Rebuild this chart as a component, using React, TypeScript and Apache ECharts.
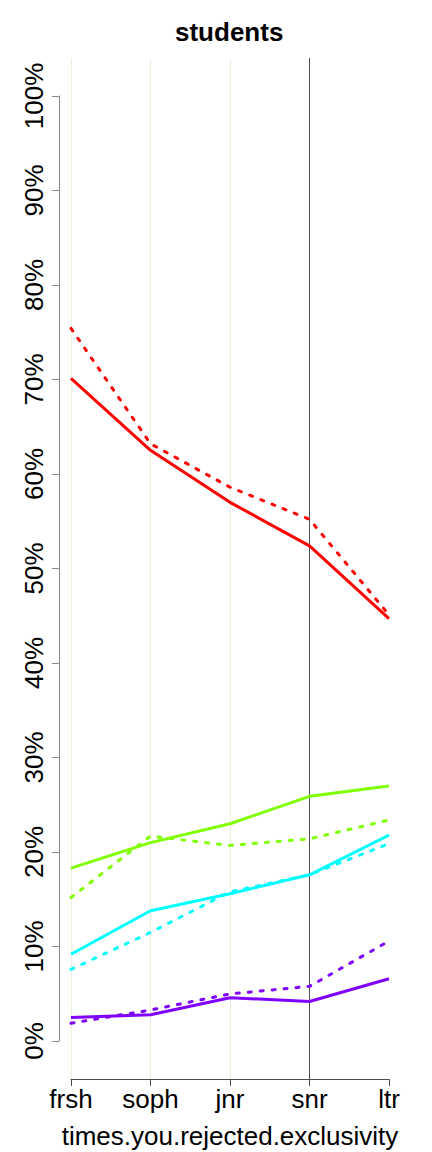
import React, { useEffect, useRef } from "react";
import * as echarts from "echarts";

const categories = ["frsh", "soph", "jnr", "snr", "ltr"];
const redSolid = [70.1, 62.5, 57.0, 52.4, 44.7];
const redDashed = [75.4, 63.2, 58.6, 55.2, 45.1];
const greenSolid = [18.3, 21.0, 23.0, 25.9, 27.0];
const greenDashed = [15.2, 21.7, 20.7, 21.4, 23.4];
const cyanSolid = [9.2, 13.8, 15.6, 17.6, 21.8];
const cyanDashed = [7.6, 11.5, 15.8, 17.6, 20.9];
const purpleSolid = [2.5, 2.8, 4.6, 4.2, 6.6];
const purpleDashed = [1.9, 3.3, 5.0, 5.8, 10.6];
const yTicks = [0, 10, 20, 30, 40, 50, 60, 70, 80, 90, 100];

const FONT = "'Liberation Sans', Arial, sans-serif";

function lineSeries(data: number[], color: string, dashed: boolean) {
  return {
    type: "line",
    xAxisIndex: 0,
    yAxisIndex: 0,
    data,
    symbol: "none",
    showSymbol: false,
    silent: true,
    lineStyle: dashed
      ? { color, width: 3, type: [3, 9], cap: "round" }
      : { color, width: 3, type: "solid" },
  };
}

export default function App() {
  const ref = useRef<HTMLDivElement>(null);
  useEffect(() => {
    if (!ref.current) return;
    const chart = echarts.init(ref.current, null, { renderer: "svg" });
    chart.setOption({
      animation: false,
      backgroundColor: "#ffffff",
      title: {
        text: "students",
        left: 170,
        top: 14,
        textStyle: { fontFamily: FONT, fontSize: 26, fontWeight: "bold", color: "#000" },
      },
      grid: [
        { left: 71, right: 43, top: 58, bottom: 73, outerBoundsMode: "none", containLabel: false },
        { left: 71, right: 43, top: 96, bottom: 111, outerBoundsMode: "none", containLabel: false },
      ],
      xAxis: [
        {
          gridIndex: 0,
          type: "category",
          data: categories,
          boundaryGap: false,
          name: "times.you.rejected.exclusivity",
          nameLocation: "middle",
          nameGap: 44,
          nameTextStyle: { fontFamily: FONT, fontSize: 26, lineHeight: 26, color: "#000" },
          axisLine: { show: true, onZero: false, lineStyle: { color: "#4d4d4d", width: 1 } },
          axisTick: { show: true, length: 7, alignWithLabel: true, lineStyle: { color: "#4d4d4d" } },
          axisLabel: { fontFamily: FONT, fontSize: 26, color: "#000", margin: 7 },
          splitLine: {
            show: true,
            showMinLine: true,
            showMaxLine: true,
            lineStyle: {
              width: 1,
              color: ["#eeeedd", "#eeeedd", "#eeeedd", "#4d4d4d", "rgba(0,0,0,0)"],
            },
          },
        },
        {
          gridIndex: 1,
          type: "category",
          data: categories,
          boundaryGap: false,
          show: false,
        },
      ],
      yAxis: [
        {
          gridIndex: 0,
          type: "value",
          min: -4,
          max: 104,
          show: false,
          splitLine: { show: false },
        },
        {
          gridIndex: 1,
          type: "value",
          min: 0,
          max: 100,
          interval: 10,
          offset: 12,
          position: "left",
          axisLine: { show: true, lineStyle: { color: "#888888", width: 1 } },
          axisTick: { show: true, length: 7, lineStyle: { color: "#888888" }, customValues: yTicks },
          axisLabel: {
            rotate: 90,
            margin: 12,
            fontFamily: FONT,
            fontSize: 26,
            color: "#000",
            customValues: yTicks,
            formatter: (v: number) => v + "%",
          },
          splitLine: { show: false },
        },
      ],
      series: [
        lineSeries(purpleDashed, "#8000FF", true),
        lineSeries(purpleSolid, "#8000FF", false),
        lineSeries(cyanDashed, "#00FFFF", true),
        lineSeries(cyanSolid, "#00FFFF", false),
        lineSeries(greenDashed, "#80FF00", true),
        lineSeries(greenSolid, "#80FF00", false),
        lineSeries(redDashed, "#FF0000", true),
        lineSeries(redSolid, "#FF0000", false),
      ],
    });
    return () => chart.dispose();
  }, []);
  return (
    <div
      ref={ref}
      style={{ position: "fixed", left: 0, top: 0, width: 432, height: 1152, background: "#fff" }}
    />
  );
}
